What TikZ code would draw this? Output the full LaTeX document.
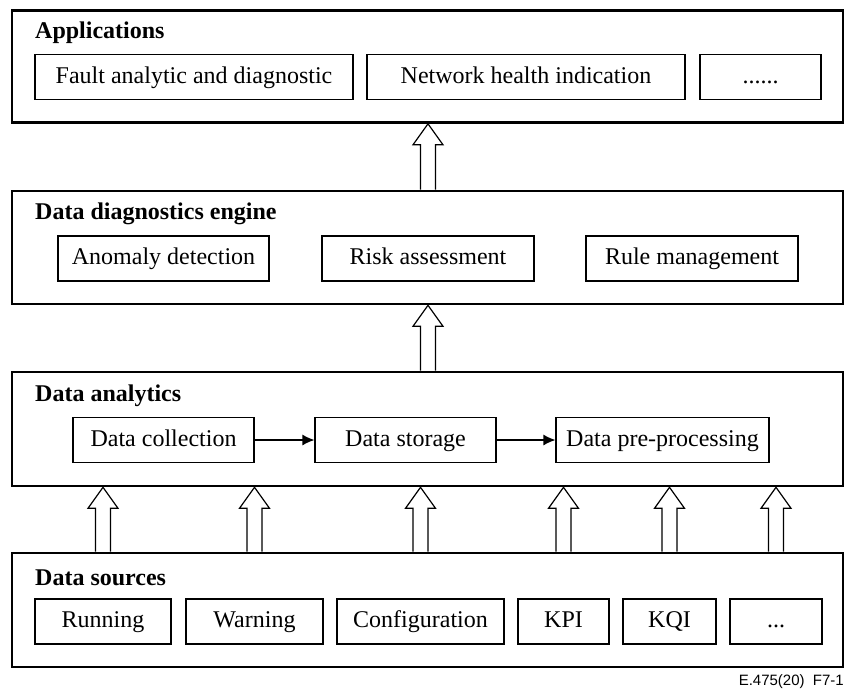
\documentclass[tikz,border=0pt]{standalone}
\usepackage{fontspec}
\setmainfont{Liberation Serif}
\newfontfamily\figfont{Liberation Sans}
\usepackage{tikz}
\usetikzlibrary{calc,arrows.meta}
\newcommand{\shaftw}{7.5}
\newcommand{\headw}{15}
\newcommand{\headl}{21}
\newcommand{\fatarrow}[2]{\draw[fat] ($(#1)+(-\shaftw,0)$) -- ($(#2)+(-\shaftw,\headl)$) -- ($(#2)+(-\headw,\headl)$) -- (#2) -- ($(#2)+(\headw,\headl)$) -- ($(#2)+(\shaftw,\headl)$) -- ($(#1)+(\shaftw,0)$);}

\begin{document}
\begin{tikzpicture}[x=1pt,y=-1pt,
    font=\fontsize{24}{28}\selectfont,
    layer/.style={draw,line width=2.6pt,minimum width=831pt,inner sep=0pt},
    box/.style={draw,line width=1.2pt,inner sep=0pt,minimum height=45pt,text height=17pt,text depth=5pt},
    title/.style={anchor=base west,inner sep=0pt,font=\fontsize{24}{28}\selectfont\bfseries},
    fat/.style={line width=1.2pt,fill=white},
    flow/.style={line width=1.2pt,-{Latex[length=12pt,width=11pt]}}]
\useasboundingbox (0,0) rectangle (845,688);

        % layers
        \node[layer,minimum height=112pt] (apps) at (427.5,66.5) {};
        \node[layer,minimum height=113pt] (diag) at (427.5,247.5) {};
        \node[layer,minimum height=114pt] (anal) at (427.5,429) {};
        \node[layer,minimum height=114pt] (srcs) at (427.5,610) {};

        \node[title] (appsT) at (35,38) {Applications};
        \node[title] (diagT) at (35,219) {Data diagnostics engine};
        \node[title] (analT) at (35,401) {Data analytics};
        \node[title] (srcsT) at (35,585) {Data sources};

        % applications
        \node[box,minimum width=318pt] (fault) at (194,77) {Fault analytic and diagnostic};
        \node[box,minimum width=318pt] (health) at (526,77) {Network health indication};
        \node[box,minimum width=121pt] (appdots) at (760.5,77) {......};

        % engine
        \node[box,minimum width=211pt] (anom) at (163.5,258.5) {Anomaly detection};
        \node[box,minimum width=212pt] (risk) at (428,258.5) {Risk assessment};
        \node[box,minimum width=212pt] (rule) at (692,258.5) {Rule management};

        % analytics
        \node[box,minimum width=181pt] (coll) at (163.5,440) {Data collection};
        \node[box,minimum width=181pt] (stor) at (405.5,440) {Data storage};
        \node[box,minimum width=213pt] (prep) at (662.5,440) {Data pre-processing};
        \draw[flow] (coll) -- (stor);
        \draw[flow] (stor) -- (prep);

        % sources
        \node[box,minimum width=136pt] (run) at (103,621.5) {Running};
        \node[box,minimum width=137pt] (warn) at (254.5,621.5) {Warning};
        \node[box,minimum width=167pt] (conf) at (420.5,621.5) {Configuration};
        \node[box,minimum width=91pt] (kpi) at (563.5,621.5) {KPI};
        \node[box,minimum width=93pt] (kqi) at (669.5,621.5) {KQI};
        \node[box,minimum width=92pt] (srcdots) at (776,621.5) {...};

        % hollow arrows
        \foreach \s in {run,warn,conf,kpi,kqi,srcdots}{
            \fatarrow{\s |- srcs.north}{\s |- anal.south}
        }
        \fatarrow{risk |- anal.north}{risk |- diag.south}
        \fatarrow{risk |- diag.north}{risk |- apps.south}

\node[anchor=base east,inner sep=0pt,font=\figfont\fontsize{15}{18}\selectfont] (figno) at (844,685) {E.475(20)\ \ F7-1};

    \end{tikzpicture}
\end{document}
